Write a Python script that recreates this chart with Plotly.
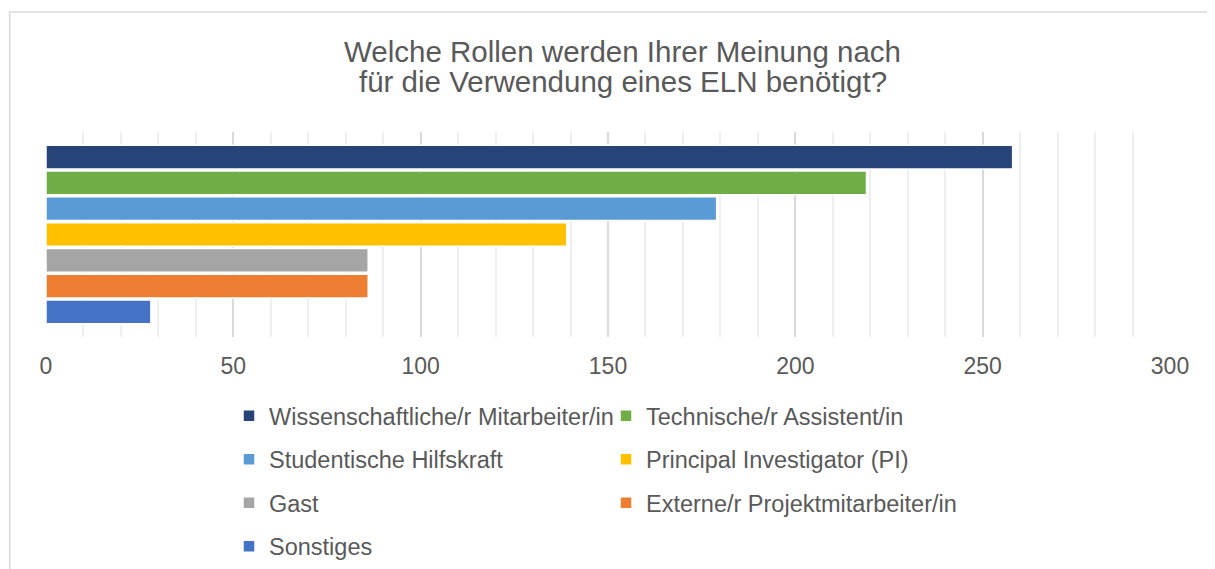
import plotly.graph_objects as go

# ---- data ----
category = ["Rollen"]
series_names = [
    "Wissenschaftliche/r Mitarbeiter/in",
    "Technische/r Assistent/in",
    "Studentische Hilfskraft",
    "Principal Investigator (PI)",
    "Gast",
    "Externe/r Projektmitarbeiter/in",
    "Sonstiges",
]
series_values = [258, 219, 179, 139, 86, 86, 28]
series_colors = ["#264478", "#70AD47", "#5B9BD5", "#FFC000", "#A5A5A5", "#ED7D31", "#4472C4"]
tick_values = [0, 50, 100, 150, 200, 250, 300]
tick_labels = ["0", "50", "100", "150", "200", "250", "300"]
title_lines = ["Welche Rollen werden Ihrer Meinung nach",
               "für die Verwendung eines ELN benötigt?"]

# the page body has an 8px margin -> work in reference pixels minus 8
OFF = 8
W, H = 1215 - OFF, 569 - OFF
FONT = "Liberation Sans, Arial, sans-serif"
TXT = "#595959"

def fx(px):  # reference x pixel -> figure pixel
    return px - OFF

def fy(py):
    return py - OFF

# plot area in reference pixels
PL, PR, PT, PB = fx(46.3), fx(1170.2), fy(132), fy(337)

def paper_x(px):
    return (fx(px) - PL) / (PR - PL)

def paper_y(py):
    return (PB - fy(py)) / (PB - PT)

legend_names = ["legend", "legend", "legend2", "legend2", "legend3", "legend3", "legend4"]

fig = go.Figure()
for name, val, col, lg in zip(series_names, series_values, series_colors, legend_names):
    fig.add_trace(go.Bar(
        y=category, x=[val], name=name, orientation="h",
        marker=dict(color=col, line=dict(color="white", width=1.5)),
        legend=lg, hoverinfo="x+name",
    ))

row_y = [416, 459.5, 503, 546.5]
legend_common = dict(
    orientation="h", xref="container", yref="container",
    xanchor="left", yanchor="middle",
    x=fx(229) / W, entrywidth=332, entrywidthmode="pixels",
    font=dict(family=FONT, size=23.5, color=TXT),
    bgcolor="rgba(0,0,0,0)", borderwidth=0, itemclick=False, itemdoubleclick=False,
)

annotations = []
for line, ycen in zip(title_lines, [51, 81.5]):
    annotations.append(dict(
        text=line, xref="paper", yref="paper", x=paper_x(623), y=paper_y(ycen),
        xanchor="center", yanchor="middle", showarrow=False,
        font=dict(family=FONT, size=29.5, color=TXT)))

fig.update_layout(
    width=W, height=H,
    margin=dict(l=PL, r=W - PR, t=PT, b=H - PB, autoexpand=False),
    paper_bgcolor="white", plot_bgcolor="white",
    barmode="group", bargap=0.12, bargroupgap=0.08,
    font=dict(family=FONT, color=TXT),
    annotations=annotations,
    xaxis=dict(range=[0, 300], tickvals=tick_values, ticktext=tick_labels,
               showgrid=True, gridcolor="#d9d9d9", gridwidth=1.5,
               minor=dict(dtick=10, showgrid=True, gridcolor="#efefef", gridwidth=1.5),
               zeroline=False, showline=False, ticks="",
               ticklabelstandoff=13,
               tickfont=dict(family=FONT, size=23, color=TXT)),
    yaxis=dict(autorange="reversed", showticklabels=False, showgrid=False,
               zeroline=False, showline=False, ticks=""),
    legend=dict(**legend_common, y=1 - fy(row_y[0]) / H),
    legend2=dict(**legend_common, y=1 - fy(row_y[1]) / H),
    legend3=dict(**legend_common, y=1 - fy(row_y[2]) / H),
    legend4=dict(**legend_common, y=1 - fy(row_y[3]) / H),
    shapes=[dict(type="rect", xref="paper", yref="paper",
                 x0=paper_x(10), x1=paper_x(1240),
                 y0=paper_y(600), y1=paper_y(12),
                 line=dict(color="#d9d9d9", width=1.5), fillcolor="rgba(0,0,0,0)",
                 layer="below")],
)

fig.write_html("out.html")
